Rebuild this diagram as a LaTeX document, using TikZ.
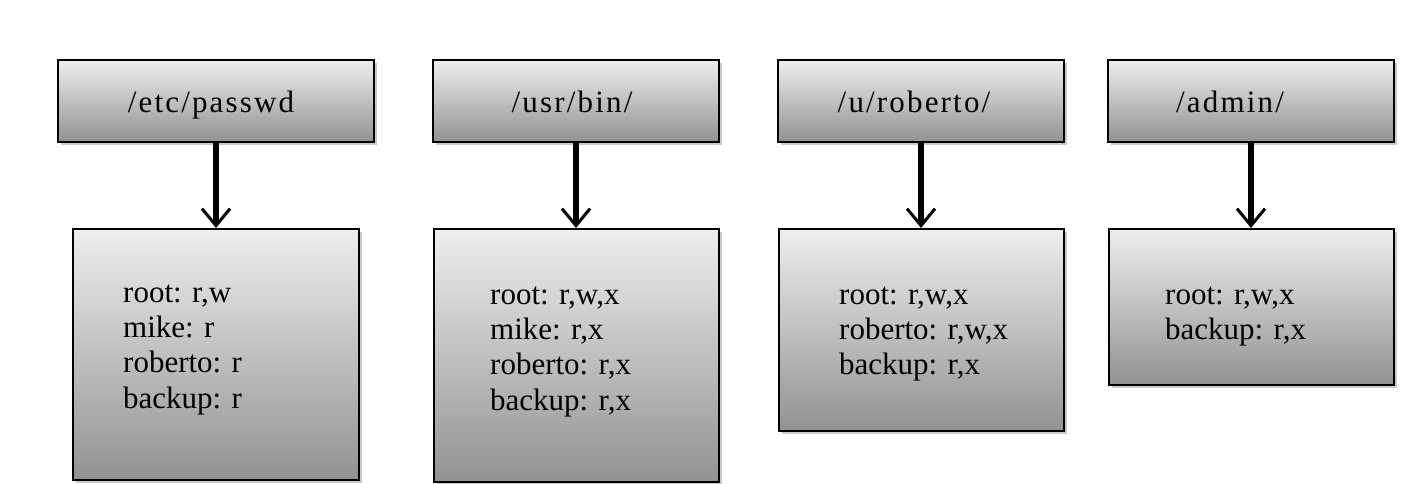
\documentclass[tikz,border=0pt]{standalone}
\usepackage{fontspec}
\setmainfont{Liberation Serif}
\usetikzlibrary{arrows.meta,shadows}
\definecolor{gtop}{RGB}{238,238,238}
\definecolor{gbot}{RGB}{146,146,146}
\tikzset{
  dirbox/.style={draw=black, line width=2bp, rectangle, inner sep=0pt,
    top color=gtop, bottom color=gbot,
    drop shadow={shadow xshift=3bp, shadow yshift=-3bp, opacity=0.35, fill=black!60}},
  dirlabel/.style={anchor=base, inner sep=0pt, font=\fontsize{31bp}{36bp}\selectfont\addfontfeatures{LetterSpace=7}},
  acltext/.style={anchor=north west, inner sep=0pt, align=left, font=\fontsize{31bp}{35.3bp}\selectfont},
  flow/.style={line width=5.5bp, -{Straight Barb[line width=3bp, length=17bp, width=28bp]}, shorten >=0pt}
}
\begin{document}
\begin{tikzpicture}[x=1bp, y=-1bp]
\useasboundingbox (0,0) rectangle (1408,484);
% top boxes
\node[dirbox, minimum width=316bp, minimum height=82bp] (t1) at (216,101) {};
\node[dirbox, minimum width=286bp, minimum height=82bp] (t2) at (576,101) {};
\node[dirbox, minimum width=286bp, minimum height=82bp] (t3) at (921,101) {};
\node[dirbox, minimum width=286bp, minimum height=82bp] (t4) at (1251,101) {};
% bottom boxes
\node[dirbox, minimum width=286bp, minimum height=251bp] (b1) at (216,354.5) {};
\node[dirbox, minimum width=285bp, minimum height=253bp] (b2) at (576,355.5) {};
\node[dirbox, minimum width=285bp, minimum height=202bp] (b3) at (921,330) {};
\node[dirbox, minimum width=285bp, minimum height=156bp] (b4) at (1251,307) {};
% labels
\node[dirlabel] (l1) at (211,113) {/etc/passwd};
\node[dirlabel] (l2) at (572,113) {/usr/bin/};
\node[dirlabel] (l3) at (914,113) {/u/roberto/};
\node[dirlabel] (l4) at (1230,113) {/admin/};
% ACL text (first baseline = y + 24.71)
\node[acltext] (a1) at (123,277.3) {\strut root: r,w\\mike: r\\roberto: r\\backup: r};
\node[acltext] (a2) at (490,279.3) {\strut root: r,w,x\\mike: r,x\\roberto: r,x\\backup: r,x};
\node[acltext] (a3) at (839,279.3) {\strut root: r,w,x\\roberto: r,w,x\\backup: r,x};
\node[acltext] (a4) at (1165,279.3) {\strut root: r,w,x\\backup: r,x};
% arrows
\draw[flow] (t1.south) -- (b1.north);
\draw[flow] (t2.south) -- (b2.north);
\draw[flow] (t3.south) -- (b3.north);
\draw[flow] (t4.south) -- (b4.north);
\end{tikzpicture}
\end{document}
